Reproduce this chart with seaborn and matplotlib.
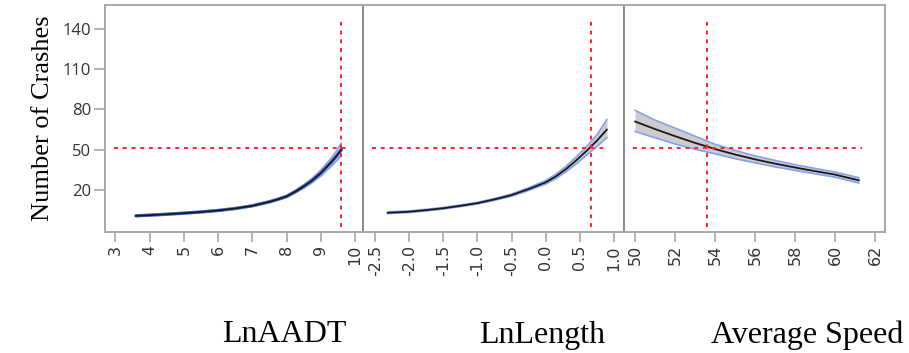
import numpy as np
import pandas as pd
import matplotlib
matplotlib.use("Agg")
import matplotlib.pyplot as plt
import seaborn as sns

# prediction profiler values
aadt_x = [3.6, 4.0, 4.5, 5.0, 5.5, 6.0, 6.5, 7.0, 7.5, 7.75, 8.0, 8.25, 8.5, 8.75, 9.0, 9.15, 9.3, 9.45, 9.6]
aadt_y = [0.5, 1.0, 1.7, 2.5, 3.4, 4.5, 6.0, 8.0, 11.0, 12.9, 15.0, 18.5, 22.5, 27.0, 32.5, 36.5, 40.5, 45.0, 50.0]
aadt_lo = [0.0, 0.5, 1.2, 2.0, 2.9, 4.0, 5.5, 7.5, 10.4, 12.2, 14.2, 17.5, 21.2, 25.3, 30.3, 33.9, 37.4, 41.3, 45.5]
aadt_hi = [1.0, 1.5, 2.2, 3.0, 3.9, 5.0, 6.5, 8.5, 11.6, 13.6, 15.8, 19.5, 23.8, 28.7, 34.7, 39.1, 43.6, 48.7, 55.0]

len_x = [-2.32, -2.0, -1.75, -1.5, -1.25, -1.0, -0.75, -0.5, -0.25, 0.0, 0.15, 0.3, 0.45, 0.6, 0.75, 0.9]
len_y = [2.8, 3.6, 4.8, 6.2, 8.0, 10.0, 12.8, 16.0, 20.5, 25.5, 30.0, 35.5, 42.0, 49.0, 56.5, 65.0]
len_lo = [2.2, 3.0, 4.2, 5.6, 7.4, 9.4, 12.1, 15.2, 19.5, 24.2, 28.4, 33.5, 39.4, 45.8, 52.2, 59.0]
len_hi = [3.4, 4.2, 5.4, 6.8, 8.6, 10.6, 13.5, 16.8, 21.5, 26.8, 31.6, 37.5, 44.6, 52.2, 60.8, 72.5]

spd_x = [50.0, 51.0, 52.0, 53.0, 54.0, 55.0, 56.0, 57.0, 58.0, 59.0, 60.0, 61.2]
spd_y = [71.0, 65.3, 60.0, 55.0, 50.4, 46.3, 42.7, 39.5, 36.6, 33.9, 31.3, 27.0]
spd_lo = [63.5, 58.8, 54.2, 50.2, 46.8, 43.2, 40.1, 37.1, 34.5, 31.9, 29.4, 25.0]
spd_hi = [79.3, 72.0, 66.1, 60.0, 54.0, 49.4, 45.3, 41.9, 38.7, 35.9, 33.2, 29.0]

x_current = [9.6, 0.66, 53.6]
y_current = 51.5

x_names = ["LnAADT", "LnLength", "Average Speed"]
aadt_ticks = [3, 4, 5, 6, 7, 8, 9, 10]
len_ticks = [-2.5, -2.0, -1.5, -1.0, -0.5, 0.0, 0.5, 1.0]
len_labels = ["-2.5", "-2.0", "-1.5", "-1.0", "-0.5", "0.0", "0.5", "1.0"]
spd_ticks = [50, 52, 54, 56, 58, 60, 62]
y_ticks = [20, 50, 80, 110, 140]

sns.set_style("white")
plt.rcParams["font.family"] = ["Open Sans", "DejaVu Sans"]
plt.rcParams["axes.unicode_minus"] = False

panels = [
    (aadt_x, aadt_y, aadt_lo, aadt_hi, aadt_ticks, [str(t) for t in aadt_ticks], (2.7, 10.23)),
    (len_x, len_y, len_lo, len_hi, len_ticks, len_labels, (-2.68, 1.15)),
    (spd_x, spd_y, spd_lo, spd_hi, spd_ticks, [str(t) for t in spd_ticks], (49.45, 62.5)),
]

fig, axes = plt.subplots(1, 3, figsize=(9.09, 3.53), dpi=100, sharey=True,
                         gridspec_kw={"width_ratios": [258, 261, 261]})
fig.subplots_adjust(left=0.1155, right=0.9736, bottom=0.343, top=0.986, wspace=0)

for i, (ax, (px, py, plo, phi, ticks, labels, xlim)) in enumerate(zip(axes, panels)):
    df = pd.DataFrame({"x": px, "y": py, "lo": plo, "hi": phi})
    ax.fill_between(df["x"], df["lo"], df["hi"], color="#cccccc", lw=0, zorder=1)
    sns.lineplot(data=df, x="x", y="lo", ax=ax, color="#84a2f2", lw=1.2, zorder=2)
    sns.lineplot(data=df, x="x", y="hi", ax=ax, color="#84a2f2", lw=1.2, zorder=2)
    if i == 0:
        # narrow band: mostly blue
        sns.lineplot(data=df, x="x", y="y", ax=ax, color="#4a70cf", lw=2.4, zorder=2.5)
    sns.lineplot(data=df, x="x", y="y", ax=ax, color="#1a1a1a", lw=1.3, zorder=3)

    ax.axhline(y_current, xmin=0.035, xmax=0.94 if i < 2 else 0.91,
               color="#ff2030", ls=(0, (2, 2.5)), lw=1.4, zorder=4)
    ax.axvline(x_current[i], ymin=0.022, ymax=0.934,
               color="#ff2030", ls=(0, (2, 2.5)), lw=1.4, zorder=4)

    ax.set_xlim(*xlim)
    ax.set_ylim(-11.5, 158)
    ax.set_xticks(ticks)
    ax.set_xticklabels(labels, rotation=90, family=["DejaVu Sans"], fontsize=11.5,
                       color="#333333")
    ax.set_xlabel("")
    ax.set_ylabel("")
    for s in ax.spines.values():
        s.set_color("#a8a8a8")
        s.set_linewidth(1.4)
    ax.tick_params(axis="x", direction="out", length=7.5, width=1.2, color="#a8a8a8",
                   pad=2, bottom=True)
    ax.tick_params(axis="y", direction="out", length=8, width=1.2, color="#a8a8a8",
                   labelsize=12, labelcolor="#333333", pad=2, left=(i == 0))

axes[0].set_yticks(y_ticks)
axes[1].spines["left"].set_color("#8a8a8a")
axes[2].spines["left"].set_color("#8a8a8a")

serif = ["Liberation Serif", "DejaVu Serif"]
axes[0].set_ylabel("Number of Crashes", family=serif, fontsize=19, color="black", labelpad=6)
for name, xc in zip(x_names, [284, 542, 807]):
    fig.text(xc / 909, 1 - 335 / 353, name, family=serif, fontsize=23,
             ha="center", va="center", color="black")

fig.savefig("out.png", dpi=100)
